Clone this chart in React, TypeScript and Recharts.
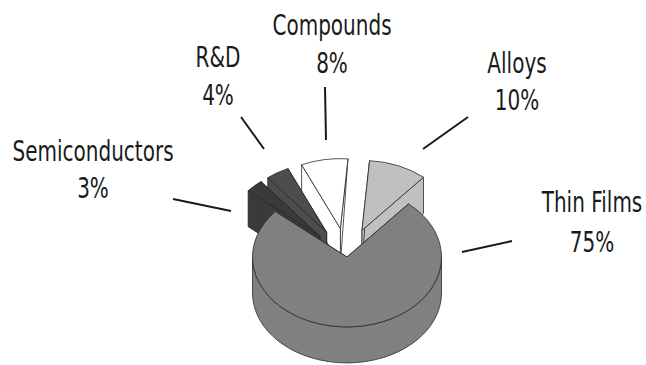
import { PieChart, Pie, Cell } from "recharts";

const sliceNames = ["Alloys", "Compounds", "R&D", "Semiconductors", "Thin Films"];
const sliceValues = [10, 8, 4, 3, 75];
const sliceFills = ["#c0c0c0", "#ffffff", "#4d4d4d", "#3a3a3a", "#808080"];
const explodedNames = ["Alloys", "Compounds", "R&D", "Semiconductors"];

const chartData = sliceNames.map((name, i) => ({ name, value: sliceValues[i] }));

const SQUASH = 0.74; // flattens the circle into the tilted top face
const DEPTH = 36; // height of the disc
const EXPLODE = 39;
const RAD = Math.PI / 180;

// label block per slice: centre x, baselines of both rows, leader line
const labelLayout = [
  { x: 517, y1: 73, y2: 110, line: [468, 117, 423, 149] },
  { x: 332, y1: 35, y2: 73, line: [325, 87, 326, 140] },
  { x: 218, y1: 67, y2: 105, line: [241, 117, 264, 149] },
  { x: 93, y1: 161, y2: 198, line: [173, 199, 231, 211] },
  { x: 592, y1: 212, y2: 252, line: [512, 241, 462, 252] },
];

function DiscSlice(props: any) {
  const { cx, cy, outerRadius: r, startAngle, endAngle, fill, name } = props;
  const offset = explodedNames.includes(name) ? EXPLODE : 0;
  const mid = ((startAngle + endAngle) / 2) * RAD;
  const ax = cx + offset * Math.cos(mid);
  const ay = cy - offset * Math.sin(mid) * SQUASH;
  const pt = (deg: number) => [
    ax + r * Math.cos(deg * RAD),
    ay - r * SQUASH * Math.sin(deg * RAD),
  ];
  const p0 = pt(startAngle);
  const p1 = pt(endAngle);
  const large = endAngle - startAngle > 180 ? 1 : 0;
  const rx = r;
  const ry = r * SQUASH;

  const topPath = `M${ax},${ay}L${p0[0]},${p0[1]}A${rx},${ry} 0 ${large} 0 ${p1[0]},${p1[1]}Z`;
  const cutFace = (deg: number) => {
    const a = pt(deg);
    // a cut that runs almost straight back is seen edge-on, so it closes to a sliver
    const edgeOn = Math.abs(Math.cos(deg * RAD)) < 0.2;
    if (edgeOn) return `M${ax},${ay}L${a[0]},${a[1]}L${ax},${ay + DEPTH}Z`;
    return `M${ax},${ay}L${a[0]},${a[1]}L${a[0]},${a[1] + DEPTH}L${ax},${ay + DEPTH}Z`;
  };

  // outer wall only exists on the part of the arc that faces the viewer
  const from = Math.max(startAngle, 180);
  const to = Math.min(endAngle, 360);
  let wallPath = "";
  if (to > from) {
    const a = pt(from);
    const b = pt(to);
    const big = to - from > 180 ? 1 : 0;
    wallPath = `M${a[0]},${a[1]}A${rx},${ry} 0 ${big} 0 ${b[0]},${b[1]}L${b[0]},${b[1] + DEPTH}A${rx},${ry} 0 ${big} 1 ${a[0]},${a[1] + DEPTH}Z`;
  }

  const line = { stroke: "#2a2a2a", strokeWidth: 0.8, strokeLinejoin: "round" as const };
  return (
    <g>
      <path d={cutFace(startAngle)} fill={fill} {...line} />
      <path d={cutFace(endAngle)} fill={fill} {...line} />
      {wallPath && <path d={wallPath} fill={fill} {...line} />}
      <path d={topPath} fill={fill} {...line} />
    </g>
  );
}

function SliceLabel(props: any) {
  const { index, name, value } = props;
  const l = labelLayout[index];
  const rowStyle = { fontFamily: "'DejaVu Sans'", fontSize: 28, fill: "#1a1a1a", textAnchor: "middle" as const };
  return (
    <g>
      <line x1={l.line[0]} y1={l.line[1]} x2={l.line[2]} y2={l.line[3]} stroke="#1a1a1a" strokeWidth={2} />
      <text transform={`translate(${l.x},${l.y1}) scale(0.715,1)`} {...rowStyle}>{name}</text>
      <text transform={`translate(${l.x},${l.y2}) scale(0.715,1)`} {...rowStyle}>{value}%</text>
    </g>
  );
}

export default function App() {
  return (
    <div style={{ position: "absolute", left: 0, top: 0, width: 646, height: 365, background: "#fff" }}>
      <PieChart width={646} height={365} margin={{ top: 0, right: 0, bottom: 0, left: 0 }}>
        <Pie
          data={chartData}
          dataKey="value"
          nameKey="name"
          cx={347}
          cy={257}
          innerRadius={0}
          outerRadius={94.5}
          startAngle={49.4}
          endAngle={409.4}
          paddingAngle={0}
          shape={DiscSlice}
          label={SliceLabel}
          labelLine={false}
          isAnimationActive={false}
        >
          {sliceFills.map((fill) => (
            <Cell key={fill} fill={fill} />
          ))}
        </Pie>
      </PieChart>
    </div>
  );
}
